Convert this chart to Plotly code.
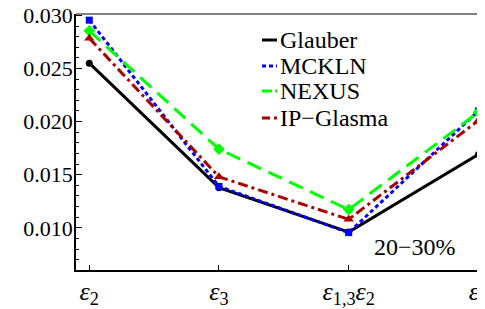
import plotly.graph_objects as go

# ---- data ----
positions = [0, 1, 2, 3]
tick_labels = ["<i>ε</i><sub>2</sub>", "<i>ε</i><sub>3</sub>",
               "<i>ε</i><sub>1,3</sub><i>ε</i><sub>2</sub>", "<i>ε</i><sub>4</sub>"]
glauber = [0.0255, 0.01378, 0.0096, 0.0169]
mckln = [0.02955, 0.0139, 0.00955, 0.0210]
nexus = [0.02855, 0.0174, 0.01172, 0.02087]
ipglasma = [0.02785, 0.0148, 0.0108, 0.0201]
series_names = ["Glauber", "MCKLN", "NEXUS", "IP\u2212Glasma"]
y_ticks = [0.010, 0.015, 0.020, 0.025, 0.030]
y_tick_text = ["0.010", "0.015", "0.020", "0.025", "0.030"]

styles = [
    dict(color="black", dash="solid", symbol="circle", size=7, legdash="solid"),
    dict(color="#0000FF", dash="4px,3px", symbol="square", size=7, legdash="4px,3px"),
    dict(color="#00FF00", dash="15px,8px", symbol="diamond", size=9, legdash="10px,3px"),
    dict(color="#AA0000", dash="10px,4px,3px,4px", symbol="triangle-up", size=9,
         legdash="8px,4px,3px,4px"),
]

FONT = "Liberation Serif"

fig = go.Figure()
for name, vals, st in zip(series_names, [glauber, mckln, nexus, ipglasma], styles):
    fig.add_trace(go.Scatter(
        x=positions, y=vals, mode="lines", name=name, showlegend=False,
        line=dict(color=st["color"], width=3, dash=st["dash"]),
    ))
for name, vals, st in zip(series_names, [glauber, mckln, nexus, ipglasma], styles):
    fig.add_trace(go.Scatter(
        x=positions, y=vals, mode="markers", name=name, showlegend=False,
        marker=dict(color=st["color"], size=st["size"], symbol=st["symbol"]),
    ))

# the page body has an 8px margin, so the figure is 8px smaller
fig.update_layout(
    width=477, height=301,
    margin=dict(l=68, r=0, t=6, b=39, autoexpand=False),
    paper_bgcolor="white", plot_bgcolor="white",
    font=dict(family=FONT, color="black", size=24),
    showlegend=False,
    xaxis=dict(range=[-0.1025, 3.051], tickmode="array", tickvals=positions,
               ticktext=tick_labels, showgrid=False, zeroline=False,
               showline=True, linecolor="black", linewidth=1.5,
               ticks="inside", ticklen=5, tickcolor="black", automargin=False,
               ticklabeloverflow="allow", ticklabelstandoff=-3,
               tickfont=dict(size=26, family=FONT)),
    yaxis=dict(range=[0.00603, 0.03013], tickmode="array", tickvals=y_ticks,
               ticktext=y_tick_text, showgrid=False, zeroline=False,
               showline=True, linecolor="black", linewidth=1.5,
               ticks="inside", ticklen=6, tickcolor="black", automargin=False,
               ticklabeloverflow="allow", ticklabelstandoff=-3,
               tickfont=dict(size=22, family=FONT),
               minor=dict(dtick=0.001, ticks="inside", ticklen=3, tickcolor="black")),
)

fig.add_shape(type="line", xref="paper", yref="paper", x0=0, x1=1, y0=1, y1=1,
              line=dict(color="gray", width=2))

# custom legend (short line samples + labels)
leg_y = [0.8984, 0.7969, 0.6992, 0.5938]
for name, st, yy in zip(series_names, styles, leg_y):
    fig.add_shape(type="line", xref="paper", yref="paper",
                  x0=0.4548, x1=0.4914, y0=yy, y1=yy,
                  line=dict(color=st["color"], width=3, dash=st["legdash"]))
    fig.add_annotation(text=name, xref="paper", yref="paper", x=0.4945, y=yy,
                       xanchor="left", yanchor="middle", showarrow=False,
                       font=dict(size=24, family=FONT))

fig.add_annotation(text="20\u221230%", xref="paper", yref="paper",
                   x=0.830, y=0.091, xanchor="center", yanchor="middle",
                   showarrow=False, font=dict(size=24, family=FONT))

fig.write_html("out.html")
